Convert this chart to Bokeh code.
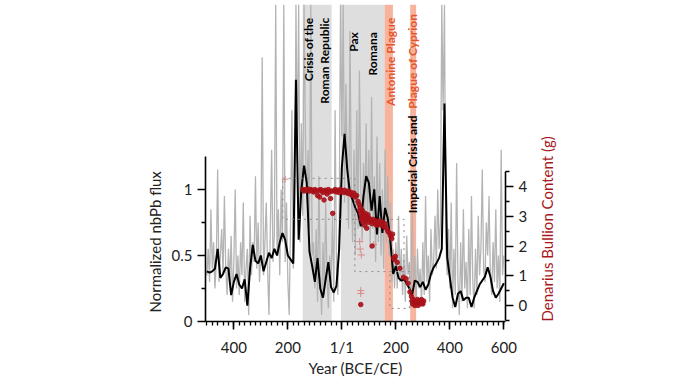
import math
from bokeh.plotting import figure
from bokeh.models import Range1d, LinearAxis, FixedTicker, BoxAnnotation, Label, NumeralTickFormatter, Title
from bokeh.embed import file_html
from bokeh.resources import INLINE

# ---------------- data ----------------
flux_years = list(range(-500, 601, 10))
flux_smooth = [
    0.38, 0.37, 0.38, 0.40, 0.55, 0.33, 0.36, 0.41, 0.40, 0.20,
    0.30, 0.36, 0.28, 0.25, 0.32, 0.12, 0.40, 0.58, 0.46, 0.44,
    0.50, 0.38, 0.45, 0.52, 0.48, 0.55, 0.50, 0.60, 0.67, 0.62,
    0.50, 0.47, 0.44, 1.83, 0.62, 1.00, 1.18, 1.05, 0.53, 0.42,
    0.30, 0.48, 0.25, 0.18, 0.32, 0.45, 0.26, 0.22, 0.27, 0.55,
    1.17, 1.42, 1.15, 0.97, 0.92, 0.86, 0.82, 0.72, 0.95, 1.10,
    1.05, 0.84, 1.00, 0.66, 0.95, 0.67, 0.86, 0.78, 0.60, 0.36,
    0.42, 0.33, 0.31, 0.32, 0.29, 0.25, 0.20, 0.31, 0.30, 0.26,
    0.30, 0.24, 0.28, 0.36, 0.41, 0.44, 0.48, 0.55, 1.65, 0.49,
    0.33, 0.18, 0.11, 0.21, 0.23, 0.16, 0.18, 0.18, 0.11, 0.18,
    0.23, 0.28, 0.31, 0.34, 0.41, 0.34, 0.23, 0.18, 0.21, 0.25, 0.29,
]

raw_years = list(range(-500, 601, 5))
flux_raw = [
    0.35, 0.55, 0.30, 0.85, 0.40, 0.60, 0.25, 0.45, 1.15, 0.30, 0.50, 0.70, 0.35, 0.95, 0.40, 0.20, 0.55, 0.30, 0.65, 0.15,
    0.45, 1.00, 0.25, 0.50, 0.20, 0.60, 0.35, 0.90, 0.15, 0.40, 0.55, 0.05, 0.80, 0.35, 0.60, 0.45, 1.10, 0.40, 0.75, 0.30,
    0.55, 2.00, 0.35, 0.60, 0.90, 0.40, 0.05, 0.70, 1.30, 0.45, 0.65, 2.40, 0.50, 0.85, 0.35, 1.00, 0.60, 2.40, 0.45, 0.90,
    0.30, 0.05, 0.75, 1.60, 0.40, 0.65, 2.40, 1.20, 2.40, 0.60, 1.50, 0.80, 2.40, 1.40, 0.90, 1.30, 0.70, 2.40, 0.50, 0.60,
    0.25, 0.70, 0.15, 1.10, 0.35, 0.05, 0.60, 0.20, 0.90, 0.35, 0.10, 0.50, 0.30, 0.80, 0.15, 1.60, 0.40, 0.20, 0.70, 2.40,
    1.40, 2.40, 0.90, 1.80, 1.20, 0.70, 2.20, 1.00, 0.60, 1.30, 0.50, 1.60, 0.70, 1.90, 1.00, 0.60, 1.20, 0.80, 1.50, 0.70,
    1.30, 0.55, 1.70, 0.70, 1.10, 0.45, 1.40, 0.60, 1.20, 0.50, 1.00, 0.40, 1.30, 0.60, 1.10, 0.50, 0.90, 0.30, 0.55, 0.25,
    0.60, 0.25, 0.80, 0.30, 0.55, 0.20, 0.50, 0.15, 0.65, 0.35, 0.45, 0.10, 0.85, 0.30, 0.50, 0.10, 0.55, 0.25, 0.40, 0.15,
    0.60, 0.20, 0.95, 0.30, 0.50, 0.15, 0.70, 0.35, 0.45, 0.80, 0.40, 1.00, 0.55, 0.75, 2.40, 1.60, 2.40, 0.60, 0.35, 0.70,
    0.25, 0.90, 0.10, 0.55, 0.20, 1.20, 0.30, 0.05, 0.60, 0.15, 0.85, 0.25, 0.45, 0.10, 0.70, 0.20, 0.95, 0.30, 0.10, 0.55,
    0.20, 0.80, 0.35, 0.55, 1.15, 0.40, 0.30, 0.75, 0.50, 0.95, 0.35, 0.20, 0.60, 0.30, 0.85, 0.25, 0.50, 0.15, 1.30, 0.35, 0.50,
]

coin_year = [
    -145, -140, -135, -130, -125, -120, -115, -110, -105, -100, -95, -90, -85, -82, -78, -75, -70, -66, -62, -58,
    -55, -50, -46, -42, -38, -34, -30, -25, -20, -15, -10, -5, 0, 5, 10, 15, 20, 25, 30, 35, 40, 45, 50, 55, 60,
    64, 66, 68, 70, 72, 74, 76, 78, 80, 82, 84, 86, 88, 90, 92, 94, 96, 98, 100, 104, 108, 112, 116, 120, 124,
    128, 132, 136, 140, 145, 150, 155, 160, 165, 170, 175, 180, 185, 188, 192, 195, 198, 205, 215, 228, 238, 245,
    252, 258, 260, 262, 265, 268, 270, 272, 275, 278, 280, 282, 285, 288, 290, 292, 295, 298, 300, 303, 70, 112,
]
coin_g = [
    3.90, 3.85, 3.90, 3.88, 3.92, 3.85, 3.90, 3.87, 3.82, 3.90, 3.85, 3.70, 3.88, 3.65, 3.90, 3.85, 3.80, 3.55, 3.88, 3.85,
    3.75, 3.90, 3.82, 3.60, 3.85, 3.10, 3.85, 3.90, 3.82, 3.88, 3.80, 3.90, 3.85, 3.80, 3.88, 3.82, 3.78, 3.85, 3.75, 3.80, 3.70, 3.78, 3.65, 3.70, 3.50,
    3.40, 3.20, 3.30, 3.10, 2.90, 3.00, 3.20, 2.80, 3.05, 2.95, 2.70, 3.10, 2.85, 3.00, 2.60, 2.90, 3.05, 2.80, 2.95, 2.90, 2.85, 2.75, 2.90, 2.80, 2.85,
    2.70, 2.80, 2.75, 2.85, 2.70, 2.80, 2.65, 2.75, 2.60, 2.50, 2.45, 2.35, 2.25, 2.40, 1.60, 1.55, 1.65, 1.45, 1.25, 0.95, 0.90, 0.75,
    0.45, 0.30, 0.15, 0.05, 0.20, 0.10, 0.00, 0.15, 0.05, 0.10, 0.20, 0.00, 0.10, 0.15, 0.05, 0.10, 0.20, 0.10, 0.05, 0.15, 0.03, 2.00,
]
faint_year = [-210, 66, 68, 72, 70, 70, 118, 200]
faint_g = [4.25, 2.15, 1.90, 1.70, 0.50, 0.40, 2.05, 1.70]

box_start = [-219, 48, 178]
box_end = [48, 230, 250]
box_low = [2.90, 1.14, -0.10]
box_high = [4.28, 2.90, 1.14]

gray_start = [-145, -3]
gray_end = [-38, 158]
plague_start = [158, 253]
plague_end = [189, 275]

x_ticks = [-400, -200, 0, 200, 400, 600]
x_tick_labels = ["400", "200", "1/1", "200", "400", "600"]
x_minor = list(range(-500, 601, 20))
left_ticks = [0, 0.5, 1]
left_minor = [0.25, 0.75]
right_ticks = [0, 1, 2, 3, 4]
right_minor = [-0.5, 0.5, 1.5, 2.5, 3.5, 4.5]

FONT = "Lato"
RED_TXT = "#E4572E"
DARK_RED = "#A8171C"
TXT = "#222222"

p = figure(width=689, height=388, x_range=Range1d(-505, 606), y_range=Range1d(0, 2.40),
           output_backend="svg", toolbar_location=None,
           min_border_left=205, min_border_right=184, min_border_top=4, min_border_bottom=67)
p.outline_line_color = None
p.grid.visible = False
p.extra_y_ranges = {"g": Range1d(-0.54, 10.13)}

for s, e in zip(gray_start, gray_end):
    p.add_layout(BoxAnnotation(left=s, right=e, fill_color="#DEDEDE", fill_alpha=1.0,
                               line_color=None, level="underlay"))
for s, e in zip(plague_start, plague_end):
    p.add_layout(BoxAnnotation(left=s, right=e, fill_color="#F6B39E", fill_alpha=1.0,
                               line_color=None, level="underlay"))

p.line(raw_years, flux_raw, color="#B4B4B4", line_width=1.3)
p.line(flux_years, flux_smooth, color="black", line_width=2)

p.quad(left=box_start, right=box_end, bottom=box_low, top=box_high, y_range_name="g",
       fill_alpha=0, line_color="#8C8C8C", line_dash="dotted", line_width=1)

p.scatter(faint_year, faint_g, y_range_name="g", marker="cross", size=7, color="#D98A8A", line_width=1)
p.scatter(coin_year, coin_g, y_range_name="g", size=4.5, color="#A8121A", alpha=0.9)

# axes
xa = p.xaxis[0]
xa.ticker = FixedTicker(ticks=x_ticks, minor_ticks=x_minor)
xa.major_label_overrides = {t: l for t, l in zip(x_ticks, x_tick_labels)}
xa.axis_label = "Year (BCE/CE)"

ya = p.yaxis[0]
ya.ticker = FixedTicker(ticks=left_ticks, minor_ticks=left_minor)
ya.formatter = NumeralTickFormatter(format="0.[0]")
ya.bounds = (0, 1.25)

ra = LinearAxis(y_range_name="g", bounds=(-0.5, 4.5),
                ticker=FixedTicker(ticks=right_ticks, minor_ticks=right_minor),
                axis_label="Denarius Bullion Content (g)")
p.add_layout(ra, "right")

for ax in [xa, ya, ra]:
    ax.axis_line_width = 1.6
    ax.major_tick_line_width = 1.6
    ax.minor_tick_line_width = 1.3
    ax.major_tick_in = 0
    ax.major_tick_out = 8
    ax.minor_tick_in = 0
    ax.minor_tick_out = 4
    ax.major_label_text_font = FONT
    ax.major_label_text_font_size = "15px"
    ax.major_label_text_color = TXT
    ax.axis_label_text_font = FONT
    ax.axis_label_text_font_size = "15px"
    ax.axis_label_text_font_style = "normal"
    ax.axis_label_text_color = TXT
xa.major_label_standoff = 8
xa.axis_label_standoff = 0
ra.axis_label_text_color = DARK_RED
ra.axis_label_orientation = math.pi / 2
ra.axis_label_align = "start"
ra.axis_label_standoff = 17

# left title placed along the left spine
p.add_layout(Title(text="Normalized nbPb flux", align="left", offset=9, text_font=FONT,
                   text_font_size="15px", text_font_style="normal", text_color=TXT), "left")

# period labels
def vlabel(x, y, text, color):
    p.add_layout(Label(x=x, y=y, text=text, angle=math.pi / 2, text_align="right",
                       text_baseline="middle", text_font=FONT, text_font_style="bold",
                       text_font_size="12px", text_color=color))

vlabel(-125, 2.30, "Crisis of the", "black")
vlabel(-63, 2.30, "Roman Republic", "black")
vlabel(44, 2.19, "Pax", "black")
vlabel(114, 2.19, "Romana", "black")
vlabel(181, 2.30, "Antonine Plague", RED_TXT)
vlabel(262, 2.33, "Plague of Cyprion", RED_TXT)
vlabel(262, 1.56, "Imperial Crisis and", "black")

open("out.html", "w").write(file_html(p, INLINE))
